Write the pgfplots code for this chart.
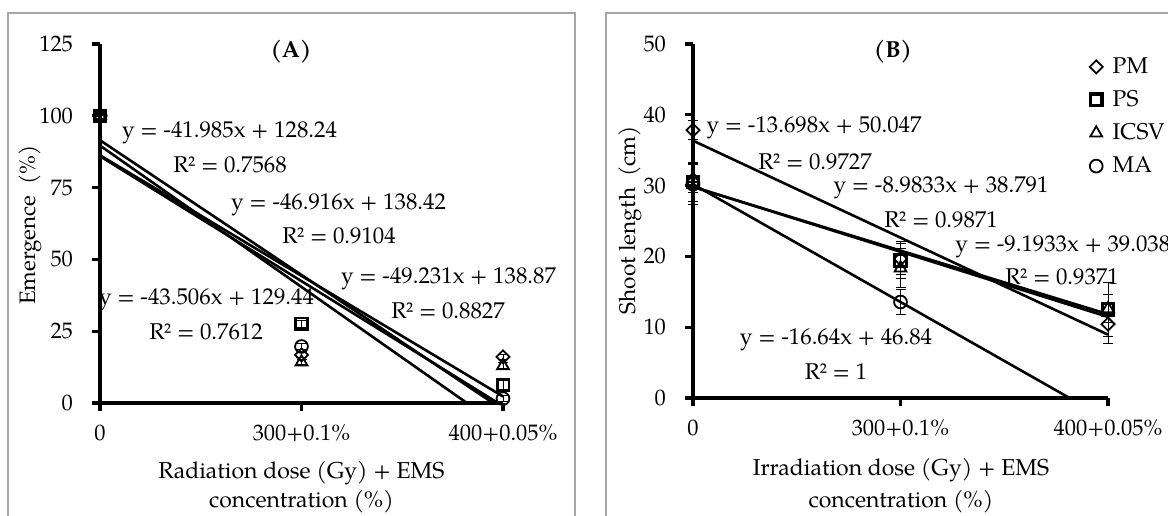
\documentclass[border=0pt]{standalone}
\usepackage{fontspec}
\setmainfont{TeX Gyre Pagella}
\usepackage{graphicx}
\usepackage{pgfplots}
\pgfplotsset{compat=1.18}

\pgfplotstableread{
x y e
1 100 0
2 16.78 1.0
3 16.03 1.0
}\APM
\pgfplotstableread{
x y e
1 100 0
2 27.6 1.2
3 6.17 1.5
}\APS
\pgfplotstableread{
x y e
1 100 0
2 14.29 1.0
3 12.99 1.0
}\AICSV
\pgfplotstableread{
x y e
1 100 0
2 19.68 1.0
3 1.54 1.0
}\AMA

\pgfplotstableread{
x y e
1 37.85 1.3
2 19.65 2.2
3 10.45 2.7
}\BPM
\pgfplotstableread{
x y e
1 30.5 2.8
2 19.44 2.6
3 12.53 3.8
}\BPS
\pgfplotstableread{
x y e
1 31.0 2.0
2 18.35 2.8
3 12.6 2.0
}\BICSV
\pgfplotstableread{
x y e
1 30.2 2.9
2 13.56 1.7
}\BMA

\newcommand{\feq}{\fontsize{11.4}{13}\selectfont}
\newcommand{\flab}{\fontsize{11.5}{13}\selectfont}
\newcommand{\ftick}{\fontsize{11.2}{13}\selectfont}

\pgfplotsset{
  panel/.style={
    scale only axis,
    xmin=1, xmax=3, ymin=0,
    axis x line=bottom, axis y line=left,
    axis line style={-, line width=1.6pt, black},
    tick align=outside, major tick length=4pt,
    tick style={line width=1.6pt, black},
    xtick={1,2,3}, xticklabels={0,300+0.1\%,400+0.05\%},
    tick label style={font=\ftick},
    /pgf/number format/assume math mode=true,
    xticklabel style={yshift=-3.5pt},
    yticklabel style={xshift=-6pt},
    clip=false,
  },
  trend/.style={black, line width=1.3pt, no marks, forget plot},
  pts/.style={only marks, black,
    error bars/y dir=both, error bars/y explicit,
    error bars/error bar style={line width=0.5pt, black},
    error bars/error mark options={rotate=90, mark size=2.5pt, line width=0.5pt, black}},
  mPM/.style={mark=square, mark size=2.3pt, mark options={rotate=45, line width=0.9pt, fill=none, solid}},
  mPS/.style={mark=square, mark size=2.9pt, mark options={line width=1.3pt, fill=none, solid}},
  mICSV/.style={mark=triangle, mark size=3.4pt, mark options={line width=0.9pt, fill=none, solid}},
  mMA/.style={mark=o, mark size=3.2pt, mark options={line width=0.9pt, fill=none, solid}},
}

\begin{document}
\begin{tikzpicture}[x=1pt,y=1pt]
\path[use as bounding box] (0pt,0pt) rectangle (584pt,-257.5pt);
\clip (0pt,0pt) rectangle (584pt,-257.5pt);
\draw[black!35, line width=0.6pt] (4pt,-6.5pt) rectangle (287.5pt,-300pt);
\draw[black!35, line width=0.6pt] (303pt,-6.5pt) rectangle (620pt,-300pt);

% ---------------- Panel A ----------------
\begin{axis}[panel, at={(50pt,-201.5pt)}, anchor=south west,
  width=201.5pt, height=179.5pt, ymax=125, ytick={0,25,...,125}]
\addplot[trend] coordinates {(1,86.255) (3,2.285)};
\addplot[trend] coordinates {(1,85.934) (2.9752,0)};
\addplot[trend] coordinates {(1,91.504) (2.9504,0)};
\addplot[trend] coordinates {(1,89.639) (2.8208,0)};
\addplot[pts, mPM] table[x=x,y=y,y error=e] {\APM};
\addplot[pts, mPS] table[x=x,y=y,y error=e] {\APS};
\addplot[pts, mICSV] table[x=x,y=y,y error=e] {\AICSV};
\addplot[pts, mMA] table[x=x,y=y,y error=e] {\AMA};
\end{axis}

% ---------------- Panel B ----------------
\begin{axis}[panel, at={(346.5pt,-199pt)}, anchor=south west,
  width=207.5pt, height=177pt, ymax=50, ytick={0,10,...,50},
  legend image code/.code={\draw[#1] plot coordinates {(0pt,0pt)};},
  legend style={draw=none, fill=none, font=\fontsize{11.4}{13}\selectfont,
    at={(axis description cs:0.955,0.963)}, anchor=north west,
    row sep=7pt, inner sep=0pt,
    nodes={inner ysep=0pt, inner xsep=0pt},
    /tikz/every odd column/.append style={column sep=5pt}},
  legend cell align=left]
\addplot[trend] coordinates {(1,36.349) (3,8.953)};
\addplot[trend] coordinates {(1,29.808) (3,11.841)};
\addplot[trend] coordinates {(1,29.845) (3,11.458)};
\addplot[trend] coordinates {(1,30.2) (2.8149,0)};
\addplot[pts, mPM] table[x=x,y=y,y error=e] {\BPM};
\addlegendentry{PM}
\addplot[pts, mPS, mark options={line width=1.6pt, fill=none, solid}] table[x=x,y=y,y error=e] {\BPS};
\addlegendentry{PS}
\addplot[pts, mICSV] table[x=x,y=y,y error=e] {\BICSV};
\addlegendentry{ICSV}
\addplot[pts, mMA] table[x=x,y=y,y error=e] {\BMA};
\addlegendentry{MA}
\end{axis}

% ---------------- Texts ----------------
\begin{scope}[every node/.style={font=\feq, inner sep=0pt}]
\node[font=\fontsize{11.2}{13}\selectfont] at (15pt,-112.5pt) {\rotatebox{90}{Emergence\ \ (\%)}};
\node[font=\fontsize{11.3}{13}\selectfont] at (315pt,-110pt) {\rotatebox{90}{Shoot length\ \ (cm)}};

\node[font=\fontsize{11.6}{13}\selectfont\bfseries] at (145.5pt,-26pt) {(A)};
\node at (114.75pt,-66.5pt) {y = -41.985x + 128.24};
\node at (115pt,-82.5pt) {R² = 0.7568};
\node at (169.25pt,-102.5pt) {y = -46.916x + 138.42};
\node at (169.5pt,-118pt) {R² = 0.9104};
\node at (224.25pt,-139.5pt) {y = -49.231x + 138.87};
\node at (224pt,-155.5pt) {R² = 0.8827};
\node at (103.25pt,-150pt) {y = -43.506x + 129.44};
\node at (103pt,-166pt) {R² = 0.7612};
\node[font=\flab] at (150.75pt,-236.5pt) {Radiation dose (Gy) + EMS};
\node[font=\flab] at (150.75pt,-251pt) {concentration (\%)};

\node[font=\fontsize{11.6}{13}\selectfont\bfseries] at (446.5pt,-26pt) {(B)};
\node at (407pt,-64pt) {y = -13.698x + 50.047};
\node at (407.5pt,-81pt) {R² = 0.9727};
\node at (470.5pt,-94pt) {y = -8.9833x + 38.791};
\node at (470.5pt,-110pt) {R² = 0.9871};
\node[anchor=west] at (477.5pt,-123.5pt) {y = -9.1933x + 39.038};
\node at (531pt,-138.5pt) {R² = 0.9371};
\node at (418pt,-170pt) {y = -16.64x + 46.84};
\node at (418pt,-186pt) {R² = 1};
\node[font=\flab] at (450.5pt,-235pt) {Irradiation dose (Gy) + EMS};
\node[font=\flab] at (450.5pt,-251pt) {concentration (\%)};
\end{scope}
\end{tikzpicture}
\end{document}
